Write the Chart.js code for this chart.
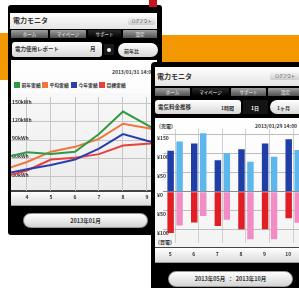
<!DOCTYPE html>
<html><head><meta charset="utf-8">
<script src="https://cdn.jsdelivr.net/npm/chart.js@4.4.1/dist/chart.umd.min.js"></script>
<style>
html,body{margin:0;padding:0;}
body{width:299px;height:288px;overflow:hidden;position:relative;background:#fff;font-family:"Noto Sans CJK JP","Noto Sans",sans-serif;color:#333;}
.a{position:absolute;box-sizing:border-box;}
.t{position:absolute;white-space:nowrap;line-height:1;}
.bar{background:linear-gradient(#fff,#e4e4e4);}
.tab{background:linear-gradient(#a0a0a0,#505050);color:#fff;font-size:4.5px;display:flex;align-items:center;justify-content:center;border-radius:1px 1px 0 0;}
.tab.sel{background:linear-gradient(#2a2a2a,#000);}
.box{background:linear-gradient(#fff,#d8d8d8);border-radius:3px;}
.pill{background:linear-gradient(#fff,#d8d8d8);border-radius:7px;}
.btn{background:linear-gradient(#f6f6f6,#cccccc);border-radius:2px;font-size:4px;display:flex;align-items:center;justify-content:center;color:#333;}
.strip{background:linear-gradient(#fff,#dcdcdc);border-top:1px solid #444;border-bottom:1px solid #999;}
.bigbtn{background:linear-gradient(#fff,#d4d4d4);border-radius:8px;border:1px solid #999;font-size:5.5px;display:flex;align-items:center;justify-content:center;color:#333;font-weight:bold;}
canvas{position:absolute;}
</style></head>
<body>
<div class="a" style="left:0;top:33px;width:10px;height:47px;background:#f39800"></div>
<div class="a" style="left:160px;top:35px;width:139px;height:28px;background:#f39800"></div>

<!-- left phone -->
<div class="a" style="left:8px;top:5px;width:154px;height:230px;background:#000;border-radius:3px"></div>
<div class="a" style="left:149px;top:0;width:8px;height:7px;background:#c8141e"></div>
<div class="a bar" style="left:10px;top:13px;width:147px;height:16px"></div>
<div class="t" style="left:13px;top:16.5px;font-size:7px;font-weight:bold">電力モニタ</div>
<div class="a btn" style="left:128px;top:17px;width:27px;height:8px">ログアウト</div>
<div class="a tab" style="left:11px;top:30px;width:37px;height:8px">ホーム</div>
<div class="a tab" style="left:50px;top:30px;width:36px;height:8px">マイページ</div>
<div class="a tab sel" style="left:88px;top:30px;width:33px;height:8px">サポート</div>
<div class="a tab" style="left:123px;top:30px;width:34px;height:8px">設定</div>
<div class="a box" style="left:12px;top:42px;width:90px;height:15px"></div>
<div class="t" style="left:15px;top:47px;font-size:5.5px;font-weight:bold">電力使用レポート</div>
<div class="t" style="left:90px;top:47px;font-size:5.5px;font-weight:bold">月</div>
<div class="a" style="left:104px;top:44px;width:10px;height:11px;background:#1a1a1a;border-radius:1px"></div>
<div class="a" style="left:107px;top:47.5px;width:4px;height:4px;background:#fff;border-radius:2px"></div>
<div class="a pill" style="left:118px;top:43px;width:40px;height:14px"></div>
<div class="t" style="left:124px;top:47.5px;font-size:5px;font-weight:bold">前年比</div>
<div class="a" style="left:11px;top:60px;width:146px;height:146px;background:linear-gradient(#fff,#f0f0f0)"></div>
<div class="t" style="left:112px;top:69px;font-size:5px;font-weight:bold">2013/01/31 14:00</div>
<div id="legend1"></div>
<div class="a" style="left:11px;top:93px;width:146px;height:98px;background:linear-gradient(#f8f8f8,#ececec)"></div>
<div class="a strip" style="left:11px;top:190px;width:146px;height:16px"></div>
<canvas id="c1" width="144" height="113" style="left:11px;top:93px;width:144px;height:113px"></canvas>
<div class="a bigbtn" style="left:23px;top:213px;width:125px;height:15px">2013年01月</div>

<!-- right phone -->
<div class="a" style="left:151px;top:62px;width:160px;height:240px;background:#000;border-radius:4px"></div>
<div class="a bar" style="left:155px;top:67px;width:150px;height:19px"></div>
<div class="t" style="left:157px;top:72.5px;font-size:7px;font-weight:bold">電力モニタ</div>
<div class="a btn" style="left:270px;top:72px;width:30px;height:8px">ログアウト</div>
<div class="a tab" style="left:155px;top:88px;width:35px;height:8px">ホーム</div>
<div class="a tab sel" style="left:192px;top:88px;width:37px;height:8px">マイページ</div>
<div class="a tab" style="left:231px;top:88px;width:35px;height:8px">サポート</div>
<div class="a tab" style="left:268px;top:88px;width:35px;height:8px">設定</div>
<div class="a box" style="left:155px;top:100px;width:86px;height:14px"></div>
<div class="t" style="left:158px;top:104.5px;font-size:5.5px;font-weight:bold">電気料金推移</div>
<div class="t" style="left:221px;top:105px;font-size:5px;font-weight:bold">1時間</div>
<div class="a" style="left:243px;top:100px;width:25px;height:14px;background:#141414;border-radius:1px"></div>
<div class="t" style="left:251px;top:105px;font-size:5px;font-weight:bold;color:#fff">1日</div>
<div class="a pill" style="left:270px;top:100px;width:36px;height:14px"></div>
<div class="t" style="left:277px;top:105px;font-size:5px;font-weight:bold">1ヶ月</div>
<div class="a" style="left:155px;top:118px;width:150px;height:145px;background:linear-gradient(#fff,#f2f2f2)"></div>
<div class="t" style="left:159px;top:123px;font-size:5px;font-weight:bold">(売電)</div>
<div class="t" style="left:255px;top:123px;font-size:5px;font-weight:bold">2013/01/29 14:00</div>
<div class="a strip" style="left:155px;top:247px;width:150px;height:16px"></div>
<div class="t" style="left:158px;top:238.5px;font-size:5px;font-weight:bold">(買電)</div>
<canvas id="c2" width="148" height="134" style="left:157px;top:129px;width:148px;height:134px"></canvas>
<div class="a bigbtn" style="left:168px;top:271px;width:125px;height:16px">2013年05月 &nbsp;：&nbsp; 2013年10月</div>

<script>
// ---- line chart data (left phone) ----
const lineMonths = [3, 4, 5, 6, 7, 8, 9, 10];
const lineXTicks = [4, 5, 6, 7, 8, 9];
const lineYTicks = [150, 120, 90, 60, 30];
const seriesNames = ['前年実績', '平均実績', '今年実績', '目標実績'];
const greenVals  = [61, 70, 67, 71, 100, 137, 115, 93];
const orangeVals = [41, 54, 71, 79, 92, 117, 110, 102];
const blueVals   = [34, 42, 49, 58, 76, 100, 89, 79];
const redVals    = [29, 40, 58, 61, 67, 81, 84, 87];

// ---- bar chart data (right phone) ----
const barMonths = ['5', '6', '7', '8', '9', '10'];
const barYTicks = [150, 100, 50, 0, -50, -100];
const sellThis  = [108, 127, 83, 112, 127, 138];
const sellLast  = [132, 154, 101, 79, 92, 110];
const buyThis   = [-109, -81, -90, -99, -99, -70];
const buyLast   = [-89, -64, -74, -125, -125, -82];

const lineColors = ['#2f9a45', '#f0763a', '#2a3fae', '#e8413d'];
const lineSeries = [greenVals, orangeVals, blueVals, redVals];

// legend (HTML)
const legX = [14, 42, 71, 99];
let lg = '';
seriesNames.forEach((n, i) => {
  lg += `<div class="a" style="left:${legX[i]}px;top:82px;width:6px;height:6px;background:${lineColors[i]}"></div>`;
  lg += `<div class="t" style="left:${legX[i]+7.5}px;top:82.5px;font-size:4.8px;font-weight:bold">${n}</div>`;
});
document.getElementById('legend1').innerHTML = lg;

const fnt = {family: '"Noto Sans CJK JP","Noto Sans",sans-serif', size: 5, weight: 'bold'};

new Chart(document.getElementById('c1'), {
  type: 'line',
  data: {
    datasets: lineSeries.map((vals, i) => ({
      label: seriesNames[i],
      data: lineMonths.map((m, j) => ({x: m, y: vals[j]})),
      borderColor: lineColors[i],
      borderWidth: 2,
      pointRadius: 0,
      tension: 0,
      clip: 0
    }))
  },
  options: {
    responsive: false, animation: false, devicePixelRatio: 1,
    layout: {padding: 0},
    plugins: {legend: {display: false}, tooltip: {enabled: false}},
    scales: {
      x: {
        type: 'linear', min: 4 - 16/24, max: 4 - 16/24 + 144/24,
        afterBuildTicks: s => { s.ticks = lineXTicks.map(v => ({value: v})); },
        afterFit: s => { s.height = 15; },
        ticks: {color: '#333', font: fnt, padding: 3, callback: v => String(v), autoSkip: false, maxRotation: 0},
        grid: {color: '#c6c6c6', drawTicks: false},
        border: {display: true, color: '#444'}
      },
      y: {
        min: 6.3, max: 161,
        afterBuildTicks: s => { s.ticks = lineYTicks.map(v => ({value: v})); },
        afterFit: s => { s.width = 0; },
        ticks: {mirror: true, padding: 1, labelOffset: -2, color: '#333', font: fnt, callback: v => v + 'kWh'},
        grid: {color: '#c6c6c6', drawTicks: false},
        border: {display: false}
      }
    }
  }
});

new Chart(document.getElementById('c2'), {
  type: 'bar',
  data: {
    labels: barMonths,
    datasets: [
      {label: '売電今年', data: sellThis, backgroundColor: '#1f3ea6', stack: 'a'},
      {label: '売電前年', data: sellLast, backgroundColor: '#5cb8ec', stack: 'b'},
      {label: '買電今年', data: buyThis, backgroundColor: '#e01e24', stack: 'a'},
      {label: '買電前年', data: buyLast, backgroundColor: '#f28cc4', stack: 'b'}
    ]
  },
  options: {
    responsive: false, animation: false, devicePixelRatio: 1,
    layout: {padding: 0},
    categoryPercentage: 0.76, barPercentage: 0.72,
    plugins: {legend: {display: false}, tooltip: {enabled: false}},
    scales: {
      x: {
        afterFit: s => { s.height = 20; },
        ticks: {color: '#333', font: fnt, padding: 8, labelOffset: -5, autoSkip: false, maxRotation: 0},
        grid: {color: '#d0d0d0', drawTicks: false, offset: false},
        border: {display: false}
      },
      y: {
        min: -135, max: 165,
        afterBuildTicks: s => { s.ticks = barYTicks.map(v => ({value: v})); },
        afterFit: s => { s.width = 6.3; },
        ticks: {mirror: true, padding: -6.3, color: '#333', font: fnt, labelOffset: 3.5, callback: v => '¥' + Math.abs(v)},
        grid: {color: c => c.tick && c.tick.value === 0 ? '#8a8a8a' : '#bdbdbd', drawTicks: false},
        border: {display: false}
      }
    }
  }
});
</script>
</body></html>
